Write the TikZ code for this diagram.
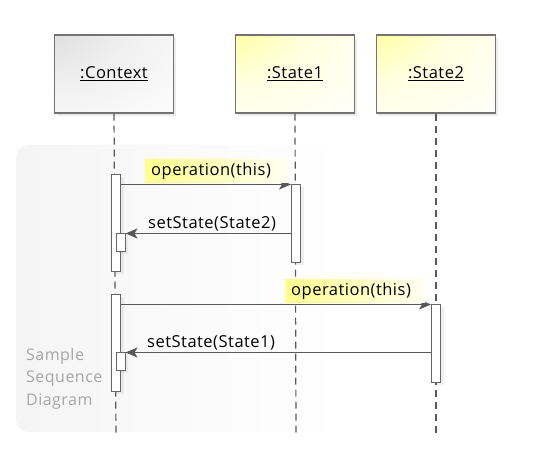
\documentclass[tikz,border=0pt]{standalone}
\usepackage{fontspec}
\setmainfont{Open Sans}[LetterSpace=3]
\usetikzlibrary{arrows.meta,shadows,positioning}

\pgfdeclareradialshading{contextglow}{\pgfpoint{-45bp}{45bp}}{color(0bp)=(black!18); color(35bp)=(black!6); color(65bp)=(white); color(100bp)=(white)}
\pgfdeclareradialshading{stateglow}{\pgfpoint{-45bp}{45bp}}{color(0bp)=(yellow!55); color(35bp)=(yellow!12); color(65bp)=(white); color(100bp)=(white)}

\begin{document}
\begin{tikzpicture}[x=1pt,y=-1pt,font=\fontsize{16.5}{19}\selectfont]
      \tikzstyle{object}=[draw=black!55, line width=1.2pt, minimum width=119pt, minimum height=78pt, inner sep=0pt,
          drop shadow={opacity=0.15, shadow xshift=2pt, shadow yshift=-3pt}]
      \tikzstyle{context object}=[object, shading=contextglow]
      \tikzstyle{state object}=[object, shading=stateglow]
      \tikzstyle{lifeline}=[draw=black!65, line width=1.2pt, dash pattern=on 7pt off 5pt]
      \tikzstyle{activation}=[draw=black!60, fill=white, line width=1pt, minimum width=9pt, inner sep=0pt,
          drop shadow={opacity=0.12, shadow xshift=3pt, shadow yshift=-2pt}]
      \tikzstyle{message}=[draw=black!65, line width=1.2pt, -{Stealth[length=12pt,width=10pt,inset=3pt]}]
      \tikzstyle{hilite}=[left color=yellow!45, right color=yellow!5, inner xsep=6pt, inner ysep=0pt,
          minimum height=23pt, anchor=south west]
      \tikzstyle{msglabel}=[inner sep=0pt, anchor=base west]

      \useasboundingbox (0,0) rectangle (550,468);

      % Frame of the sample
      \path[rounded corners=12pt, left color=black!4, right color=white] (16,145) rectangle (340,432);
      \node[text=black!35, align=left, anchor=north west, inner sep=0pt, font=\fontsize{16}{22.5}\selectfont]
          (note) at (26,348) {Sample\\Sequence\\Diagram};

      % Draw the objects
      \node[context object] (ctx) at (114,74) {\underline{:Context}};
      \node[state object] (st1) at (295,74) {\underline{:State1}};
      \node[state object] (st2) at (436,74) {\underline{:State2}};

      % Draw the lifelines
      \foreach \name / \x in {ctx/116,st1/296,st2/436}
          \coordinate (\name-end) at (\x,435);
      \foreach \name in {ctx,st1,st2}
          \path[lifeline] (\name.south) -- (\name-end);

      % Draw the activations
      \node[activation, minimum height=97pt] (ctx-a1) at (116,223.5) {};
      \node[activation, minimum height=18pt] (ctx-n1) at (120.5,243) {};
      \node[activation, minimum height=78pt] (st1-a) at (296,224) {};
      \node[activation, minimum height=97pt] (ctx-a2) at (116,343.5) {};
      \node[activation, minimum height=18pt] (ctx-n2) at (120.5,362) {};
      \node[activation, minimum height=78pt] (st2-a) at (436,344) {};

      % Connect the activations with the messages
      \path[message] (ctx-a1.east |- st1-a.north) -- (st1-a.north west);
      \path[message] (st1-a.west |- ctx-n1.north) -- (ctx-n1.north east);
      \path[message] (ctx-a2.east |- st2-a.north) -- (st2-a.north west);
      \path[message] (st2-a.west |- ctx-n2.north) -- (ctx-n2.north east);

      % Annotate the messages
      \node[hilite, minimum width=143pt, align=left, text width=131pt] (op1) at (145,183) {operation(this)};
      \node[msglabel] (set2) at (148,229) {setState(State2)};
      \node[hilite, minimum width=140pt, align=left, text width=128pt] (op2) at (285,303) {operation(this)};
      \node[msglabel] (set1) at (147,348) {setState(State1)};
  \end{tikzpicture}
\end{document}
